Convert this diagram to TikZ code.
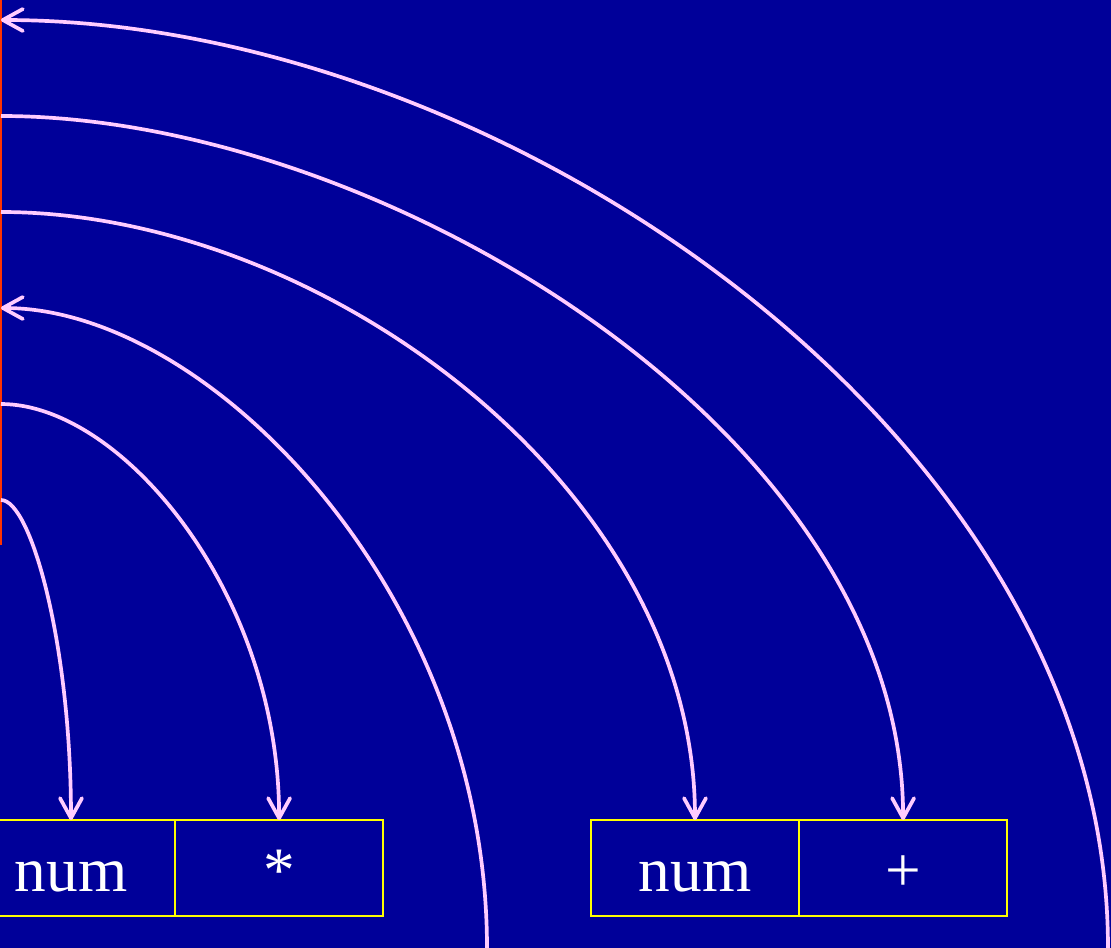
\documentclass[tikz,border=0pt]{standalone}
\usepackage{fontspec}
\setmainfont{Liberation Serif}
\usepackage{tikz}
\usetikzlibrary{arrows.meta}
\usetikzlibrary{positioning}
\definecolor{sl-back}{HTML}{000099}
\definecolor{sl-arc}{HTML}{FFCCFF}
\definecolor{sl-stack}{HTML}{FF3300}
\definecolor{sl-cell}{HTML}{FFFF00}

\begin{document}
\begin{tikzpicture}[x=0.01cm, y=-0.01cm, >={Straight Barb[length=2mm, width=2.2mm, round]},
    arc/.style={sl-arc, line width=1.05pt},
    cell/.style={draw=sl-cell, line width=0.6pt, text=white, minimum width=2.08cm,
        minimum height=0.96cm, inner sep=0pt, outer sep=0pt, text height=0.46cm, text depth=0pt,
        font=\fontsize{18}{22}\selectfont}]

    % fond de la diapositive
    \useasboundingbox (0,0) rectangle (1111,948);
    \fill[sl-back] (0,0) rectangle (1111,948);

    % --- PILE (bord gauche) ---
    \draw[sl-stack, line width=0.7pt] (1,0) -- (1,545);
    \coordinate (s1) at (1,20);
    \coordinate (s2) at (1,116);
    \coordinate (s3) at (1,212);
    \coordinate (s4) at (1,308);
    \coordinate (s5) at (1,404);
    \coordinate (s6) at (1,500);
    \coordinate (e1) at (1108,948);
    \coordinate (e4) at (487,948);

    % --- CELLULES DES ENREGISTREMENTS ---
    \node[cell] (numA) at (71,868) {num};
    \node[cell, right=0pt of numA] (mul) {*};
    \node[cell] (numB) at (695,868) {num};
    \node[cell, right=0pt of numB] (plus) {+};

    % --- POINTEURS ---
    \draw[arc, ->] (e1) .. controls +(0,-512) and +(500,0) .. (s1);
    \draw[arc, ->] (s2) .. controls +(380,0) and +(0,-387) .. (plus.north);
    \draw[arc, ->] (s3) .. controls +(320,0) and +(0,-333) .. (numB.north);
    \draw[arc, ->] (e4) .. controls +(0,-352) and +(210,0) .. (s4);
    \draw[arc, ->] (s5) .. controls +(120,0) and +(0,-228) .. (mul.north);
    \draw[arc, ->] (s6) .. controls +(30,0) and +(0,-175) .. (numA.north);

\end{tikzpicture}
\end{document}
